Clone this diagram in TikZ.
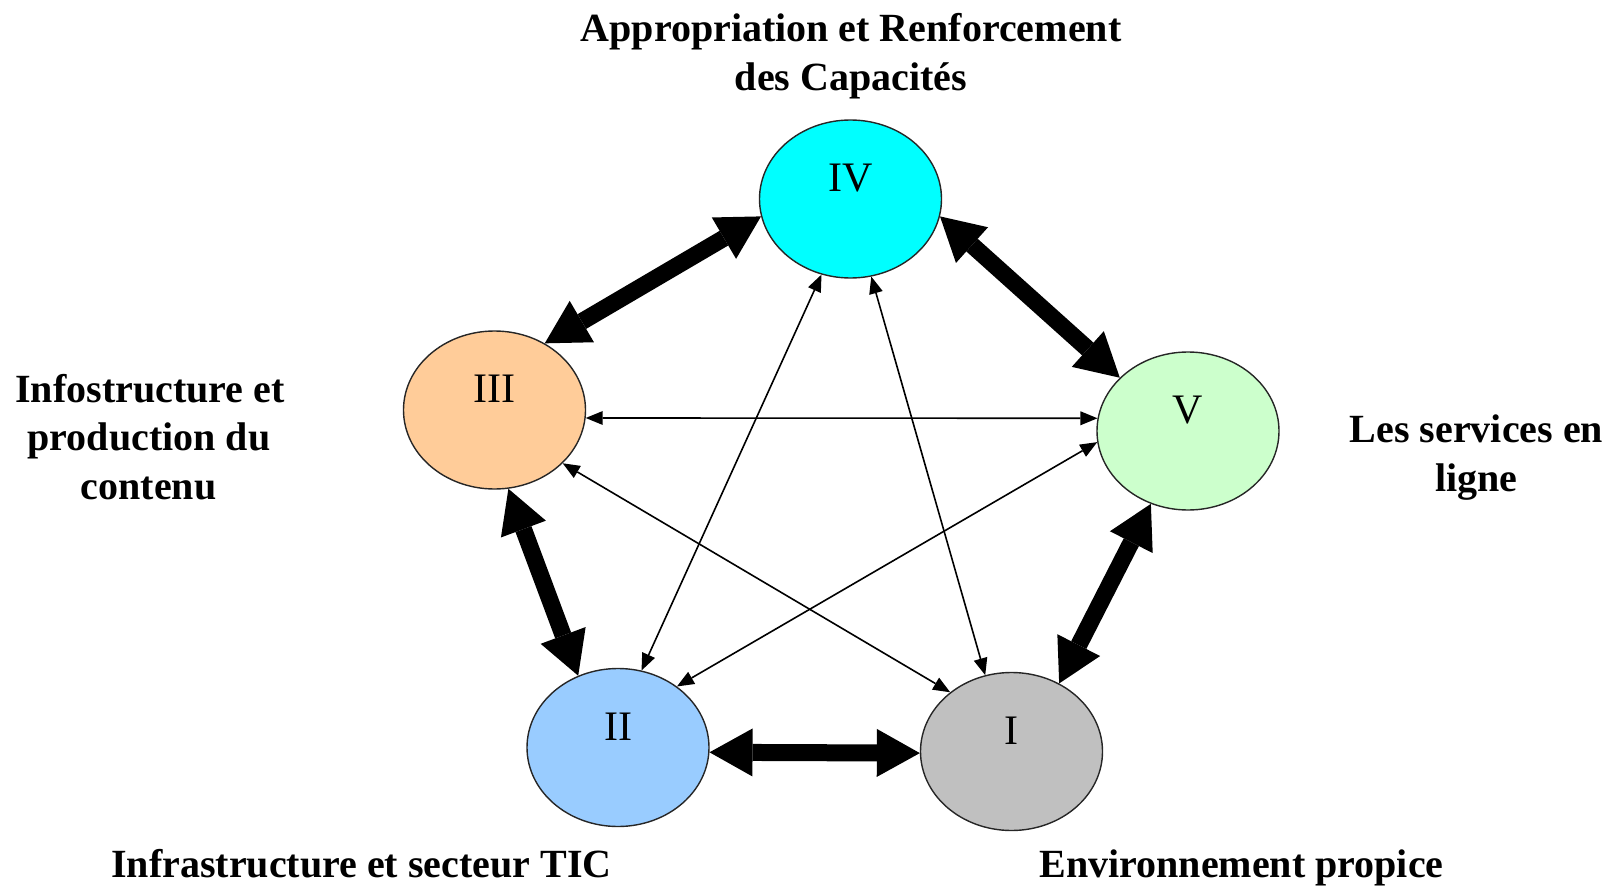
\documentclass[tikz,border=0pt]{standalone}
\usepackage{fontspec}
\setmainfont{Liberation Serif}
\usetikzlibrary{shapes.geometric,arrows.meta}
\definecolor{cfour}{HTML}{00FFFF}
\definecolor{cthree}{HTML}{FFCC99}
\definecolor{cfive}{HTML}{CCFFCC}
\definecolor{ctwo}{HTML}{99CCFF}
\definecolor{cone}{HTML}{C0C0C0}
\tikzset{
  bub/.style={ellipse, draw=black!85, line width=1.4pt, minimum width=182pt, minimum height=158pt, inner sep=0pt},
  num/.style={font=\fontsize{42}{42}\selectfont, inner sep=0pt},
  lab/.style={font=\fontsize{40}{49}\selectfont\bfseries, anchor=base, inner sep=0pt},
  bigarrow/.style={line width=17pt, {Triangle[length=43pt,width=48pt,line width=0pt]}-{Triangle[length=43pt,width=48pt,line width=0pt]}},
  thinarrow/.style={line width=1.6pt, {Triangle[length=17pt,width=14pt,line width=0pt]}-{Triangle[length=17pt,width=14pt,line width=0pt]}}
}
\begin{document}
\begin{tikzpicture}[x=1pt,y=-1pt]
\useasboundingbox (0,0) rectangle (1612,888);
% circles
\node[bub, fill=cfour]  (IV)  at (850.5,199) {};
\node[bub, fill=cthree] (III) at (494.5,410) {};
\node[bub, fill=cfive]  (V)   at (1188,431) {};
\node[bub, fill=ctwo]   (II)  at (618,747.5) {};
\node[bub, fill=cone]   (I)   at (1011.5,751.5) {};
% numerals
\node[num] (tIV)  at ([yshift=21pt]IV.center)  {IV};
\node[num] (tIII) at ([yshift=21pt]III.center) {III};
\node[num] (tV)   at ([yshift=21pt]V.center)   {V};
\node[num] (tII)  at ([yshift=21pt]II.center)  {II};
\node[num] (tI)   at ([yshift=21pt]I.center)   {I};
% labels
\node[lab] (la1) at (851,42) {Appropriation et Renforcement};
\node[lab] (la2) at (851,91) {des Capacités};
\node[lab] (lb1) at (150,402) {Infostructure et};
\node[lab] (lb2) at (149,450.5) {production du};
\node[lab] (lb3) at (148.5,499) {contenu};
\node[lab] (lc1) at (1476.5,442.5) {Les services en};
\node[lab] (lc2) at (1476.5,491) {ligne};
\node[lab] (ld) at (361.5,877) {Infrastructure et secteur TIC};
\node[lab] (le) at (1241.5,877) {Environnement propice};
% thick arrows
\draw[bigarrow] (III.53) -- (IV.191);
\draw[bigarrow] (IV.349) -- (V.142);
\draw[bigarrow] (V.243) -- (I.55);
\draw[bigarrow] (III.280) -- (II.119);
\draw[bigarrow] (II.-3.5) -- (I.181.5);
% thin arrows
\draw[thinarrow] (III.-5.3) -- (V.172.2);
\draw[thinarrow] (IV.249) -- (II.73.6);
\draw[thinarrow] (IV.285) -- (I.109);
\draw[thinarrow] (III.322) -- (I.136.6);
\draw[thinarrow] (V.187) -- (II.46.5);
\end{tikzpicture}
\end{document}
